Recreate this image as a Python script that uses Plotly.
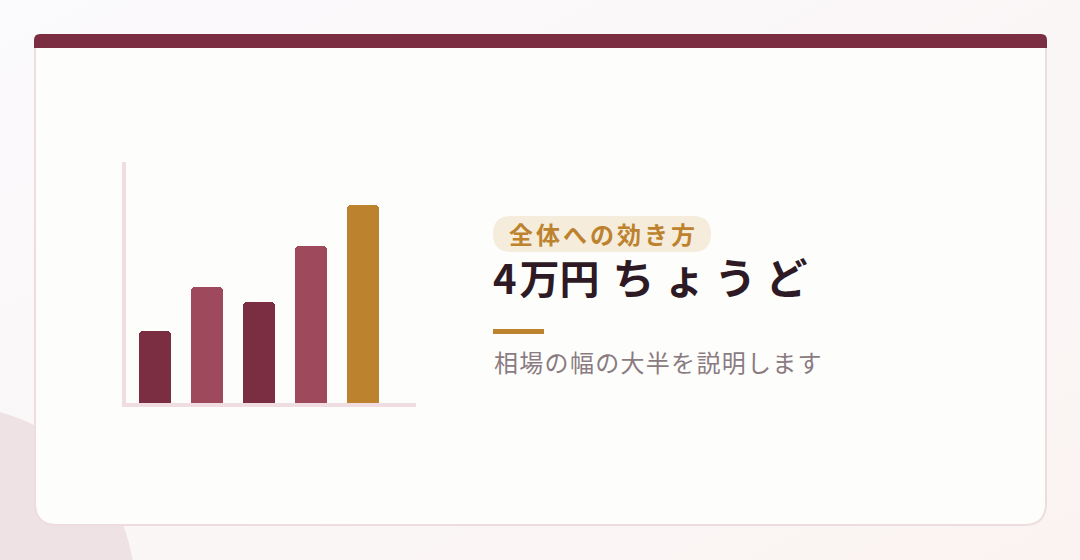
import base64
import plotly.graph_objects as go

W, H = 1080, 560

# ---- data ----
categories = ["A", "B", "C", "D", "E"]
values = [30, 48, 42, 65, 82]
bar_colors = ["#7b2d42", "#9e4a5c", "#7b2d42", "#9e4a5c", "#bd822d"]

badge_text = "全体への効き方"
title_parts = ["4", "万", "円", "ちょうど"]
subtitle_text = "相場の幅の大半を説明します"


def px(x):
    return x / W


def py(y):
    return 1 - y / H


def rrect(x0, y0, x1, y1, tl=0, tr=0, br=0, bl=0):
    """Rounded rectangle path in paper coords from pixel coords."""
    pts = []
    pts.append(f"M{px(x0 + tl)},{py(y0)}")
    pts.append(f"L{px(x1 - tr)},{py(y0)}")
    if tr:
        pts.append(f"Q{px(x1)},{py(y0)} {px(x1)},{py(y0 + tr)}")
    pts.append(f"L{px(x1)},{py(y1 - br)}")
    if br:
        pts.append(f"Q{px(x1)},{py(y1)} {px(x1 - br)},{py(y1)}")
    pts.append(f"L{px(x0 + bl)},{py(y1)}")
    if bl:
        pts.append(f"Q{px(x0)},{py(y1)} {px(x0)},{py(y1 - bl)}")
    pts.append(f"L{px(x0)},{py(y0 + tl)}")
    if tl:
        pts.append(f"Q{px(x0)},{py(y0)} {px(x0 + tl)},{py(y0)}")
    pts.append("Z")
    return " ".join(pts)


def spaced(text, ls, size=None):
    style = f"letter-spacing:{ls}px"
    if size:
        style += f";font-size:{size}px"
    return f'<span style="{style}">{text}</span>'


# subtle page background gradient
bg_svg = (
    f'<svg xmlns="http://www.w3.org/2000/svg" width="{W}" height="{H}">'
    '<defs><linearGradient id="g" x1="0" y1="0" x2="1" y2="1">'
    '<stop offset="0" stop-color="#fbfafc"/><stop offset="1" stop-color="#faf3f2"/>'
    '</linearGradient></defs>'
    f'<rect width="{W}" height="{H}" fill="url(#g)"/></svg>'
)
bg_uri = "data:image/svg+xml;base64," + base64.b64encode(bg_svg.encode()).decode()

shapes = []
# background circle bottom-left
shapes.append(dict(type="circle", xref="paper", yref="paper",
                   x0=px(-50 - 185), x1=px(-50 + 185), y0=py(590 + 185), y1=py(590 - 185),
                   fillcolor="#efe2e4", line=dict(width=0), layer="below"))
# card
shapes.append(dict(type="path", xref="paper", yref="paper",
                   path=rrect(35, 36, 1046, 525, 8, 8, 22, 22),
                   fillcolor="#fdfefc", line=dict(color="#eedde0", width=2), layer="below"))
# top bar
shapes.append(dict(type="path", xref="paper", yref="paper",
                   path=rrect(34, 34, 1047, 48, 6, 6, 0, 0),
                   fillcolor="#7b2d42", line=dict(width=0), layer="below"))
# chart axis lines
shapes.append(dict(type="rect", xref="paper", yref="paper",
                   x0=px(122), x1=px(126), y0=py(407), y1=py(162),
                   fillcolor="#efdde1", line=dict(width=0), layer="below"))
shapes.append(dict(type="rect", xref="paper", yref="paper",
                   x0=px(122), x1=px(416), y0=py(407), y1=py(403),
                   fillcolor="#efdde1", line=dict(width=0), layer="below"))
# badge pill
shapes.append(dict(type="path", xref="paper", yref="paper",
                   path=rrect(493, 216, 711, 252, 18, 18, 18, 18),
                   fillcolor="#f5ecdb", line=dict(width=0), layer="below"))
# gold rule
shapes.append(dict(type="rect", xref="paper", yref="paper",
                   x0=px(493), x1=px(544), y0=py(334), y1=py(329),
                   fillcolor="#bd822d", line=dict(width=0), layer="below"))

fig = go.Figure()
fig.add_trace(go.Bar(
    x=list(range(len(categories))), y=values,
    width=32 / 52,
    marker=dict(color=bar_colors, line=dict(width=0), cornerradius=4),
    hoverinfo="skip", showlegend=False,
))

title_html = (spaced(title_parts[0], 3) + spaced(title_parts[1], 0)
              + spaced(title_parts[2], 13) + spaced(title_parts[3], 9, 42))

annotations = [
    dict(text=spaced(badge_text, 3), x=px(507), y=py(233), xref="paper", yref="paper",
         xanchor="left", yanchor="middle", showarrow=False,
         font=dict(family="Noto Sans CJK JP", size=24, color="#bd822d", weight=700)),
    dict(text=title_html, x=px(491), y=py(275), xref="paper", yref="paper",
         xanchor="left", yanchor="middle", showarrow=False,
         font=dict(family="Noto Sans CJK JP", size=40, color="#2e1a24", weight=700)),
    dict(text=spaced(subtitle_text, 1.3), x=px(492), y=py(361), xref="paper", yref="paper",
         xanchor="left", yanchor="middle", showarrow=False,
         font=dict(family="Noto Sans CJK JP", size=24, color="#8b7b82")),
]

x_lo = (122 - 155) / 52
x_hi = (416 - 155) / 52

fig.update_layout(
    width=W, height=H,
    margin=dict(l=0, r=0, t=0, b=0),
    paper_bgcolor="#faf7f8",
    plot_bgcolor="rgba(0,0,0,0)",
    images=[dict(source=bg_uri, xref="paper", yref="paper", x=0, y=1,
                 sizex=1, sizey=1, xanchor="left", yanchor="top",
                 sizing="stretch", layer="below")],
    shapes=shapes,
    annotations=annotations,
    xaxis=dict(domain=[px(122), px(416)], range=[x_lo, x_hi], visible=False, fixedrange=True),
    yaxis=dict(domain=[py(403), py(162)], range=[0, 100], visible=False, fixedrange=True),
    bargap=0,
)

fig.write_html("out.html", config={"displayModeBar": False},
               post_script="document.body.style.margin='0';document.body.style.overflow='hidden';")
